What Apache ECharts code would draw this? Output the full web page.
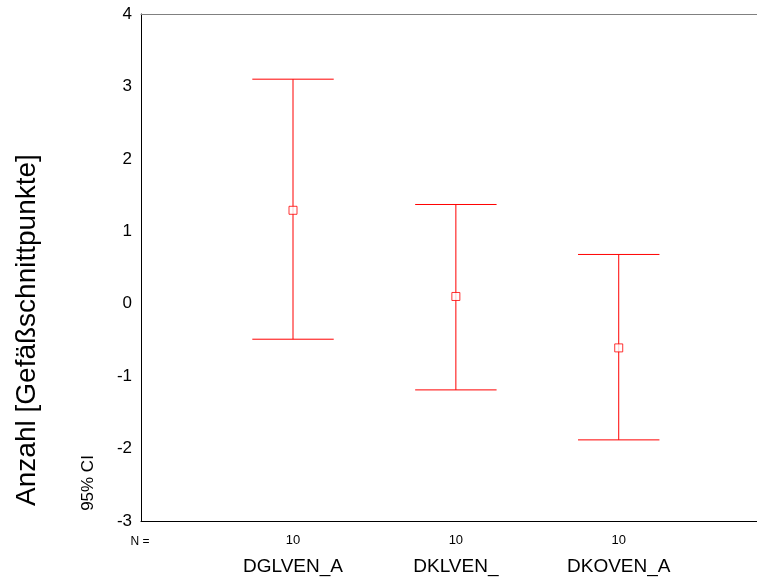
<!DOCTYPE html>
<html>
<head>
<meta charset="utf-8">
<script src="https://cdn.jsdelivr.net/npm/echarts@6/dist/echarts.min.js"></script>
<style>html,body{margin:0;padding:0;background:#fff;}#c{width:757px;height:578px;}</style>
</head>
<body>
<div id="c"></div>
<script>
const categories = ['DGLVEN_A', 'DKLVEN_', 'DKOVEN_A'];
const counts = [10, 10, 10];
const means = [1.29, 0.1, -0.61];
const lower = [-0.49, -1.19, -1.88];
const upper = [3.1, 1.37, 0.68];
const yTicks = [-3, -2, -1, 0, 1, 2, 3, 4];

const positions = categories.map((c, i) => i + 1);
const ciData = positions.map((p, i) => [p, lower[i], upper[i]]);
const meanData = positions.map((p, i) => [p, means[i]]);

const chart = echarts.init(document.getElementById('c'));
const FONT = 'Liberation Sans, Arial, sans-serif';
chart.setOption({
  animation: false,
  backgroundColor: '#fff',
  grid: { left: 141, right: 0, top: 14, bottom: 57 },
  xAxis: [
    {
      type: 'value', min: 0.0666, max: 3.849, position: 'bottom',
      axisLine: { show: true, onZero: false, lineStyle: { color: '#000', width: 1 } },
      axisTick: { show: false }, splitLine: { show: false },
      axisLabel: {
        customValues: positions, margin: 36, fontSize: 19, color: '#000', fontFamily: FONT,
        formatter: v => categories[Math.round(v) - 1] || ''
      }
    },
    {
      type: 'value', min: 0.0666, max: 3.849, position: 'top',
      axisLine: { show: true, onZero: false, lineStyle: { color: '#808080', width: 1 } },
      axisTick: { show: false }, splitLine: { show: false }, axisLabel: { show: false }
    },
    {
      type: 'value', min: 0.0666, max: 3.849, position: 'bottom', offset: 0,
      axisLine: { show: false, onZero: false }, axisTick: { show: false }, splitLine: { show: false },
      axisLabel: {
        customValues: positions, margin: 13, fontSize: 13, color: '#000', fontFamily: FONT,
        formatter: v => String(counts[Math.round(v) - 1] ?? '')
      }
    }
  ],
  yAxis: {
    type: 'value', min: -3, max: 4, interval: 1,
    axisLine: { show: true, onZero: false, lineStyle: { color: '#000', width: 1 } },
    axisTick: { show: false }, splitLine: { show: false },
    axisLabel: {
      customValues: yTicks, margin: 9, fontSize: 17, color: '#000', fontFamily: FONT
    }
  },
  graphic: [
    { type: 'text', x: 27, y: 330, rotation: Math.PI / 2,
      style: { text: 'Anzahl [Gefäßschnittpunkte]', font: '28px ' + FONT, fill: '#000', align: 'center', verticalAlign: 'middle' } },
    { type: 'text', x: 88, y: 483, rotation: Math.PI / 2,
      style: { text: '95% CI', font: '17px ' + FONT, fill: '#000', align: 'center', verticalAlign: 'middle' } },
    { type: 'text', x: 140, y: 542,
      style: { text: 'N =', font: '12px ' + FONT, fill: '#000', align: 'center', verticalAlign: 'middle' } }
  ],
  series: [
    {
      type: 'custom', xAxisIndex: 0,
      data: ciData,
      renderItem: function (params, api) {
        const x = api.value(0);
        const lo = api.coord([x, api.value(1)]);
        const hi = api.coord([x, api.value(2)]);
        const half = api.size([0.25, 0])[0];
        const st = { stroke: '#ff0000', lineWidth: 1 };
        return {
          type: 'group',
          children: [
            { type: 'line', shape: { x1: lo[0], y1: lo[1], x2: hi[0], y2: hi[1] }, style: st },
            { type: 'line', shape: { x1: hi[0] - half, y1: hi[1], x2: hi[0] + half, y2: hi[1] }, style: st },
            { type: 'line', shape: { x1: lo[0] - half, y1: lo[1], x2: lo[0] + half, y2: lo[1] }, style: st }
          ]
        };
      }
    },
    {
      type: 'scatter', xAxisIndex: 0,
      data: meanData,
      symbol: 'rect', symbolSize: 8,
      itemStyle: { color: '#fff', borderColor: '#ff0000', borderWidth: 1 },
      z: 5
    }
  ]
});
</script>
</body>
</html>
